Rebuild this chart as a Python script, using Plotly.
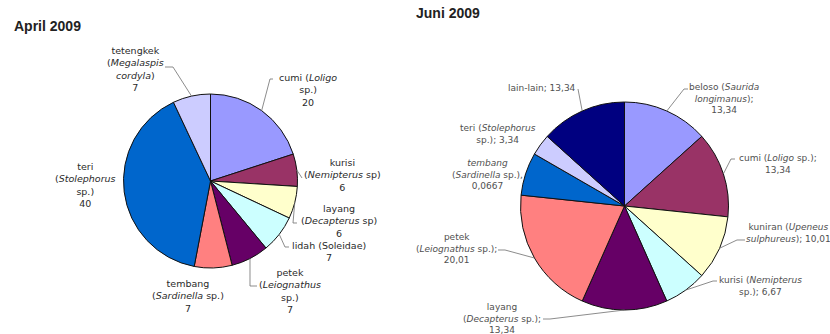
import math
import plotly.graph_objects as go

W, H = 830, 334

# ---------------- data ----------------
apr_names = ["cumi", "kurisi", "layang", "lidah", "petek", "tembang", "teri", "tetengkek"]
apr_values = [20, 6, 6, 7, 7, 7, 40, 7]
apr_value_text = ["20", "6", "6", "7", "7", "7", "40", "7"]
apr_label_text = [
    "cumi (<i>Loligo</i><br>sp.)",
    "kurisi<br>(<i>Nemipterus</i> sp)",
    "layang<br>(<i>Decapterus</i> sp)",
    "lidah (Soleidae)",
    "petek<br>(<i>Leiognathus</i><br>sp.)",
    "tembang<br>(<i>Sardinella</i> sp.)",
    "teri<br>(<i>Stolephorus</i><br>sp.)",
    "tetengkek<br>(<i>Megalaspis</i><br><i>cordyla</i>)",
]

jun_names = ["beloso", "cumi", "kuniran", "kurisi", "layang", "petek", "tembang", "teri", "lain-lain"]
jun_values = [13.34, 13.34, 10.01, 6.67, 13.34, 20.01, 6.67, 3.34, 13.34]
jun_value_text = ["13,34", "13,34", "10,01", "6,67", "13,34", "20,01", "0,0667", "3,34", "13,34"]
jun_label_text = [
    "beloso (<i>Saurida</i><br><i>longimanus</i>);<br>",
    "cumi (<i>Loligo</i> sp.);<br>",
    "kuniran (<i>Upeneus</i><br><i>sulphureus</i>); ",
    "kurisi (<i>Nemipterus</i><br>sp.); ",
    "layang<br>(<i>Decapterus</i> sp.);<br>",
    "petek<br>(<i>Leiognathus</i> sp.);<br>",
    "<i>tembang</i><br>(<i>Sardinella</i> sp.),<br>",
    "teri (<i>Stolephorus</i><br>sp.); ",
    "lain-lain; ",
]

titles = ["April 2009", "Juni 2009"]

# ---------------- layout (pixels) ----------------
apr_center, apr_r = (210.5, 181.0), 87.0
jun_center, jun_r = (624.5, 206.0), 104.0

colors_apr = ["#9999FF", "#993366", "#FFFFCC", "#CCFFFF", "#660066", "#FF8080", "#0066CC", "#CCCCFF"]
colors_jun = ["#9999FF", "#993366", "#FFFFCC", "#CCFFFF", "#660066", "#FF8080", "#0066CC", "#CCCCFF", "#000080"]

# label block centre, leader attach point, elbow point
apr_pos = [
    (308, 89.5, (273, 79), (270, 79)),
    (342, 175.5, (302, 178), None),
    (339, 221, (297, 223), (293, 223)),
    (329, 252, (289, 247), (285, 247)),
    (290, 291, (257, 286), (250, 286)),
    (188, 295.5, None, None),
    (85, 185, None, None),
    (135, 69, (165, 67), (173, 67)),
]
jun_pos = [
    (724, 99, (688, 89), (684, 89)),
    (778, 163.5, (735, 159), (731, 159)),
    (788, 233, (745, 240), (737, 240)),
    (760, 286, (717, 281), (713, 281)),
    (502, 318, (543, 319), (550, 319)),
    (456, 248.5, (498, 250), (505, 250)),
    (487, 174, None, None),
    (498, 133.5, None, None),
    (542, 88, (578, 89), None),
]


def px(x):
    return x / W


def py(y):
    return 1 - y / H


def domain(center, r):
    cx, cy = center
    return dict(x=[px(cx - r), px(cx + r)], y=[py(cy + r), py(cy - r)])


fig = go.Figure()
fig.add_trace(go.Pie(
    labels=apr_names, values=apr_values, sort=False, direction="clockwise", rotation=0,
    marker=dict(colors=colors_apr, line=dict(color="#111111", width=1)),
    textinfo="none", hoverinfo="skip", showlegend=False, domain=domain(apr_center, apr_r),
))
fig.add_trace(go.Pie(
    labels=jun_names, values=jun_values, sort=False, direction="clockwise", rotation=0,
    marker=dict(colors=colors_jun, line=dict(color="#111111", width=1)),
    textinfo="none", hoverinfo="skip", showlegend=False, domain=domain(jun_center, jun_r),
))

annotations = []
shapes = []


def add_labels(values, label_text, value_text, pos, center, r, fsize, color, sep):
    total = float(sum(values))
    cum = 0.0
    for v, lt, vt, p in zip(values, label_text, value_text, pos):
        mid = (cum + v / 2.0) / total * 2 * math.pi
        cum += v
        cx_l, cy_l, attach, elbow = p
        text = lt + (sep if sep else "") + vt
        annotations.append(dict(
            x=px(cx_l), y=py(cy_l), xref="paper", yref="paper", text=text, showarrow=False,
            xanchor="center", yanchor="middle", align="center",
            font=dict(family="DejaVu Sans", size=fsize, color=color),
        ))
        if attach is not None:
            ax_ = center[0] + r * math.sin(mid)
            ay_ = center[1] - r * math.cos(mid)
            pts = [(ax_, ay_)]
            if elbow is not None:
                pts.append(elbow)
            pts.append(attach)
            path = "M " + " L ".join(f"{px(a):.5f},{py(b):.5f}" for a, b in pts)
            shapes.append(dict(type="path", path=path, xref="paper", yref="paper",
                               line=dict(color="#6f6f6f", width=0.8), layer="above"))


add_labels(apr_values, apr_label_text, apr_value_text, apr_pos, apr_center, apr_r, 9.5, "#2a2a2a", "<br>")
add_labels(jun_values, jun_label_text, jun_value_text, jun_pos, jun_center, jun_r, 9, "#505050", "")

annotations.append(dict(x=px(12), y=py(26), xref="paper", yref="paper", text="<b>" + titles[0] + "</b>",
                        showarrow=False, xanchor="left", yanchor="middle",
                        font=dict(family="Liberation Sans", size=14, color="#222222")))
annotations.append(dict(x=px(414), y=py(13), xref="paper", yref="paper", text="<b>" + titles[1] + "</b>",
                        showarrow=False, xanchor="left", yanchor="middle",
                        font=dict(family="Liberation Sans", size=14, color="#222222")))

fig.update_layout(
    width=W, height=H, margin=dict(l=0, r=0, t=0, b=0),
    paper_bgcolor="white", plot_bgcolor="white",
    annotations=annotations, shapes=shapes, showlegend=False,
)

fig.write_html("out.html")
